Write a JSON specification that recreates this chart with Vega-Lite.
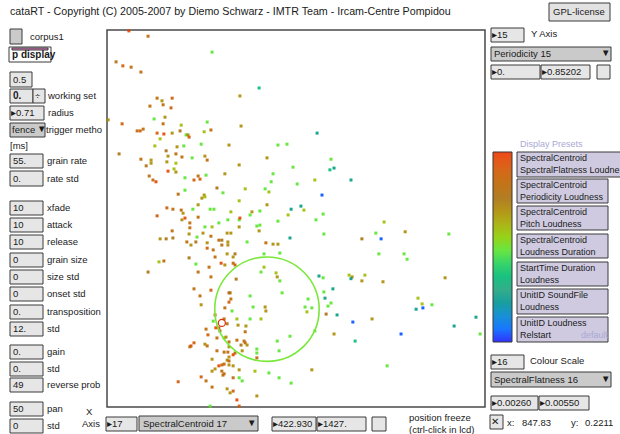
{
"$schema": "https://vega.github.io/schema/vega-lite/v6.json",
"width": 620, "height": 434, "padding": 0, "autosize": "none",
"background": "white",
"config": {"view": {"stroke": null}, "text": {"font": "Liberation Sans", "fontSize": 9.5, "color": "#1a1a1a", "align": "left", "baseline": "middle"}},
"datasets": {
"boxes": [
{"col":549,"col2":610,"row":3,"row2":21,"kind":"button"},
{"col":10,"col2":22,"row":29,"row2":44,"kind":"menu"},
{"col":9,"col2":51,"row":47,"row2":62,"kind":"white"},
{"col":12,"col2":48,"row":48,"row2":50,"kind":"pink"},
{"col":10,"col2":32,"row":72,"row2":87,"kind":"field"},
{"col":10,"col2":33,"row":89,"row2":103,"kind":"field"},
{"col":33,"col2":45,"row":89,"row2":103,"kind":"field"},
{"col":10,"col2":44,"row":106,"row2":120,"kind":"field"},
{"col":10,"col2":45,"row":123,"row2":137,"kind":"menu"},
{"col":10,"col2":43,"row":154,"row2":168,"kind":"field"},
{"col":10,"col2":43,"row":171,"row2":186,"kind":"field"},
{"col":10,"col2":43,"row":201,"row2":215,"kind":"field"},
{"col":10,"col2":43,"row":218,"row2":232,"kind":"field"},
{"col":10,"col2":43,"row":235,"row2":249,"kind":"field"},
{"col":10,"col2":43,"row":253,"row2":267,"kind":"field"},
{"col":10,"col2":43,"row":270,"row2":284,"kind":"field"},
{"col":10,"col2":43,"row":287,"row2":301,"kind":"field"},
{"col":10,"col2":43,"row":305,"row2":319,"kind":"field"},
{"col":10,"col2":43,"row":322,"row2":336,"kind":"field"},
{"col":10,"col2":43,"row":345,"row2":359,"kind":"field"},
{"col":10,"col2":43,"row":362,"row2":376,"kind":"field"},
{"col":10,"col2":43,"row":378,"row2":392,"kind":"field"},
{"col":10,"col2":43,"row":402,"row2":416,"kind":"field"},
{"col":10,"col2":43,"row":419,"row2":433,"kind":"field"},
{"col":106,"col2":137,"row":417,"row2":431,"kind":"field"},
{"col":139,"col2":258,"row":416,"row2":431,"kind":"menu"},
{"col":272,"col2":316,"row":417,"row2":431,"kind":"field"},
{"col":317,"col2":366,"row":417,"row2":431,"kind":"field"},
{"col":372,"col2":386,"row":417,"row2":431,"kind":"field"},
{"col":490,"col2":503,"row":415,"row2":429,"kind":"field"},
{"col":491,"col2":524,"row":28,"row2":42,"kind":"field"},
{"col":491,"col2":611,"row":47,"row2":61,"kind":"menu"},
{"col":491,"col2":540,"row":65,"row2":79,"kind":"field"},
{"col":541,"col2":590,"row":65,"row2":79,"kind":"field"},
{"col":597,"col2":610,"row":65,"row2":79,"kind":"field"},
{"col":491,"col2":524,"row":355,"row2":369,"kind":"field"},
{"col":491,"col2":611,"row":372,"row2":387,"kind":"menu"},
{"col":491,"col2":538,"row":396,"row2":410,"kind":"field"},
{"col":539,"col2":589,"row":396,"row2":410,"kind":"field"},
{"col":517,"col2":622,"row":152,"row2":177,"kind":"preset"},
{"col":517,"col2":608,"row":179,"row2":203,"kind":"preset"},
{"col":517,"col2":608,"row":206,"row2":230,"kind":"preset"},
{"col":517,"col2":608,"row":234,"row2":258,"kind":"preset"},
{"col":517,"col2":608,"row":262,"row2":286,"kind":"preset"},
{"col":517,"col2":608,"row":289,"row2":314,"kind":"preset"},
{"col":517,"col2":608,"row":317,"row2":342,"kind":"preset"}
],
"labels": [
{"text":"corpus1","col":30,"row":37},
{"text":"0.5","col":13,"row":80},
{"text":"÷","col":35,"row":96},
{"text":"working set","col":48,"row":96},
{"text":"▸0.71","col":11,"row":113},
{"text":"radius","col":48,"row":113},
{"text":"fence","col":12,"row":130},
{"text":"▼","col":37,"row":129},
{"text":"trigger metho","col":46,"row":130},
{"text":"[ms]","col":10,"row":146},
{"text":"55.","col":13,"row":161},
{"text":"grain rate","col":47,"row":161},
{"text":"0.","col":13,"row":179},
{"text":"rate std","col":47,"row":179},
{"text":"10","col":13,"row":208},{"text":"xfade","col":47,"row":208},
{"text":"10","col":13,"row":225},{"text":"attack","col":47,"row":225},
{"text":"10","col":13,"row":242},{"text":"release","col":47,"row":242},
{"text":"0","col":13,"row":260},{"text":"grain size","col":47,"row":260},
{"text":"0","col":13,"row":277},{"text":"size std","col":47,"row":277},
{"text":"0","col":13,"row":294},{"text":"onset std","col":47,"row":294},
{"text":"0.","col":13,"row":312},{"text":"transposition","col":47,"row":312},
{"text":"12.","col":13,"row":329},{"text":"std","col":47,"row":329},
{"text":"0.","col":13,"row":352},{"text":"gain","col":47,"row":352},
{"text":"0.","col":13,"row":369},{"text":"std","col":47,"row":369},
{"text":"49","col":13,"row":385},{"text":"reverse prob","col":47,"row":385},
{"text":"50","col":13,"row":409},{"text":"pan","col":47,"row":409},
{"text":"0","col":13,"row":426},{"text":"std","col":47,"row":426},
{"text":"X","col":86,"row":412},{"text":"Axis","col":82,"row":424},
{"text":"▸17","col":107,"row":424},
{"text":"SpectralCentroid 17","col":143,"row":424},{"text":"▼","col":247,"row":423},
{"text":"▸422.930","col":273,"row":424},
{"text":"▸1427.","col":318,"row":424},
{"text":"position freeze","col":409,"row":418},
{"text":"(ctrl-click in lcd)","col":409,"row":430},
{"text":"✕","col":491,"row":422},
{"text":"x:","col":507,"row":423},{"text":"847.83","col":522,"row":423},
{"text":"y:","col":571,"row":423},{"text":"0.2211","col":585,"row":423},
{"text":"GPL-license","col":553,"row":12},
{"text":"▸15","col":492,"row":35},{"text":"Y Axis","col":531,"row":34},
{"text":"Periodicity 15","col":494,"row":54},{"text":"▼","col":601,"row":53},
{"text":"▸0.","col":492,"row":72},{"text":"▸0.85202","col":542,"row":72},
{"text":"▸16","col":492,"row":362},{"text":"Colour Scale","col":530,"row":361},
{"text":"SpectralFlatness 16","col":494,"row":380},{"text":"▼","col":601,"row":379},
{"text":"▸0.00260","col":492,"row":403},{"text":"▸0.00550","col":540,"row":403}
],
"presets": [
{"text":"SpectralCentroid","col":520,"row":158},{"text":"SpectralFlatness Loudne","col":520,"row":170},
{"text":"SpectralCentroid","col":520,"row":185},{"text":"Periodicity Loudness","col":520,"row":197},
{"text":"SpectralCentroid","col":520,"row":212},{"text":"Pitch Loudness","col":520,"row":224},
{"text":"SpectralCentroid","col":520,"row":240},{"text":"Loudness Duration","col":520,"row":252},
{"text":"StartTime Duration","col":520,"row":268},{"text":"Loudness","col":520,"row":280},
{"text":"UnitID SoundFile","col":520,"row":295},{"text":"Loudness","col":520,"row":307},
{"text":"UnitID Loudness","col":520,"row":323},{"text":"Relstart","col":520,"row":335}
],
"bold": [
{"text":"p display","col":12,"row":55},
{"text":"0.","col":13,"row":96}
],
"faint": [
{"text":"Display Presets","col":520,"row":144},
{"text":"default","col":581,"row":335}
],
"title": [
{"text":"cataRT - Copyright (C) 2005-2007 by Diemo Schwarz - IMTR Team - Ircam-Centre Pompidou","col":10,"row":12}
],
"frame": [{"centroid":422.93,"centroid_end":1427,"periodicity":0,"periodicity_end":0.85202}],
"cursor": [{"centroid":847.83,"periodicity":0.2211}],
"selected": [{"centroid":728,"periodicity":0.19}],
"units": [
{"centroid":481,"periodicity":0.850,"flatness":0.0054},
{"centroid":532,"periodicity":0.838,"flatness":0.0050},
{"centroid":702,"periodicity":0.802,"flatness":0.0040},
{"centroid":447,"periodicity":0.780,"flatness":0.0048},
{"centroid":465,"periodicity":0.771,"flatness":0.0052},
{"centroid":487,"periodicity":0.768,"flatness":0.0050},
{"centroid":513,"periodicity":0.757,"flatness":0.0050},
{"centroid":827,"periodicity":0.721,"flatness":0.0036},
{"centroid":776,"periodicity":0.703,"flatness":0.0046},
{"centroid":556,"periodicity":0.698,"flatness":0.0050},
{"centroid":596,"periodicity":0.698,"flatness":0.0052},
{"centroid":569,"periodicity":0.692,"flatness":0.0046},
{"centroid":537,"periodicity":0.680,"flatness":0.0050},
{"centroid":572,"periodicity":0.683,"flatness":0.0050},
{"centroid":593,"periodicity":0.676,"flatness":0.0052},
{"centroid":577,"periodicity":0.655,"flatness":0.0046},
{"centroid":548,"periodicity":0.651,"flatness":0.0040},
{"centroid":426,"periodicity":0.649,"flatness":0.0046},
{"centroid":689,"periodicity":0.644,"flatness":0.0040},
{"centroid":463,"periodicity":0.640,"flatness":0.0052},
{"centroid":620,"periodicity":0.637,"flatness":0.0043},
{"centroid":572,"periodicity":0.640,"flatness":0.0050},
{"centroid":779,"periodicity":0.635,"flatness":0.0046},
{"centroid":519,"periodicity":0.628,"flatness":0.0050},
{"centroid":503,"periodicity":0.624,"flatness":0.0050},
{"centroid":511,"periodicity":0.624,"flatness":0.0052},
{"centroid":617,"periodicity":0.624,"flatness":0.0048},
{"centroid":699,"periodicity":0.626,"flatness":0.0050},
{"centroid":681,"periodicity":0.622,"flatness":0.0043},
{"centroid":556,"periodicity":0.619,"flatness":0.0052},
{"centroid":574,"periodicity":0.617,"flatness":0.0054},
{"centroid":596,"periodicity":0.619,"flatness":0.0046},
{"centroid":633,"periodicity":0.615,"flatness":0.0040},
{"centroid":638,"periodicity":0.615,"flatness":0.0046},
{"centroid":641,"periodicity":0.610,"flatness":0.0052},
{"centroid":981,"periodicity":0.619,"flatness":0.0033},
{"centroid":564,"periodicity":0.606,"flatness":0.0043},
{"centroid":673,"periodicity":0.594,"flatness":0.0040},
{"centroid":550,"periodicity":0.590,"flatness":0.0043},
{"centroid":627,"periodicity":0.590,"flatness":0.0040},
{"centroid":609,"periodicity":0.588,"flatness":0.0046},
{"centroid":747,"periodicity":0.592,"flatness":0.0046},
{"centroid":877,"periodicity":0.592,"flatness":0.0040},
{"centroid":901,"periodicity":0.594,"flatness":0.0040},
{"centroid":455,"periodicity":0.572,"flatness":0.0048},
{"centroid":580,"periodicity":0.579,"flatness":0.0048},
{"centroid":606,"periodicity":0.572,"flatness":0.0050},
{"centroid":585,"periodicity":0.567,"flatness":0.0046},
{"centroid":622,"periodicity":0.565,"flatness":0.0050},
{"centroid":683,"periodicity":0.567,"flatness":0.0046},
{"centroid":513,"periodicity":0.560,"flatness":0.0050},
{"centroid":540,"periodicity":0.558,"flatness":0.0046},
{"centroid":540,"periodicity":0.551,"flatness":0.0046},
{"centroid":649,"periodicity":0.563,"flatness":0.0040},
{"centroid":689,"periodicity":0.558,"flatness":0.0050},
{"centroid":848,"periodicity":0.563,"flatness":0.0046},
{"centroid":582,"periodicity":0.554,"flatness":0.0046},
{"centroid":606,"periodicity":0.551,"flatness":0.0043},
{"centroid":527,"periodicity":0.545,"flatness":0.0048},
{"centroid":774,"periodicity":0.547,"flatness":0.0046},
{"centroid":917,"periodicity":0.542,"flatness":0.0040},
{"centroid":601,"periodicity":0.538,"flatness":0.0043},
{"centroid":606,"periodicity":0.531,"flatness":0.0046},
{"centroid":585,"periodicity":0.533,"flatness":0.0054},
{"centroid":686,"periodicity":0.524,"flatness":0.0040},
{"centroid":736,"periodicity":0.527,"flatness":0.0046},
{"centroid":864,"periodicity":0.527,"flatness":0.0040},
{"centroid":535,"periodicity":0.522,"flatness":0.0050},
{"centroid":545,"periodicity":0.513,"flatness":0.0050},
{"centroid":553,"periodicity":0.509,"flatness":0.0054},
{"centroid":630,"periodicity":0.518,"flatness":0.0040},
{"centroid":654,"periodicity":0.513,"flatness":0.0052},
{"centroid":665,"periodicity":0.522,"flatness":0.0050},
{"centroid":670,"periodicity":0.515,"flatness":0.0052},
{"centroid":859,"periodicity":0.509,"flatness":0.0040},
{"centroid":928,"periodicity":0.504,"flatness":0.0040},
{"centroid":975,"periodicity":0.513,"flatness":0.0043},
{"centroid":715,"periodicity":0.495,"flatness":0.0048},
{"centroid":790,"periodicity":0.493,"flatness":0.0043},
{"centroid":843,"periodicity":0.493,"flatness":0.0040},
{"centroid":630,"periodicity":0.490,"flatness":0.0040},
{"centroid":731,"periodicity":0.484,"flatness":0.0040},
{"centroid":853,"periodicity":0.486,"flatness":0.0043},
{"centroid":612,"periodicity":0.481,"flatness":0.0050},
{"centroid":681,"periodicity":0.479,"flatness":0.0046},
{"centroid":683,"periodicity":0.475,"flatness":0.0043},
{"centroid":675,"periodicity":0.472,"flatness":0.0046},
{"centroid":774,"periodicity":0.466,"flatness":0.0043},
{"centroid":848,"periodicity":0.457,"flatness":0.0046},
{"centroid":912,"periodicity":0.447,"flatness":0.0033},
{"centroid":938,"periodicity":0.454,"flatness":0.0033},
{"centroid":946,"periodicity":0.445,"flatness":0.0043},
{"centroid":665,"periodicity":0.457,"flatness":0.0046},
{"centroid":582,"periodicity":0.450,"flatness":0.0052},
{"centroid":598,"periodicity":0.447,"flatness":0.0050},
{"centroid":620,"periodicity":0.445,"flatness":0.0050},
{"centroid":625,"periodicity":0.438,"flatness":0.0046},
{"centroid":651,"periodicity":0.447,"flatness":0.0040},
{"centroid":697,"periodicity":0.447,"flatness":0.0040},
{"centroid":707,"periodicity":0.447,"flatness":0.0040},
{"centroid":752,"periodicity":0.441,"flatness":0.0043},
{"centroid":808,"periodicity":0.441,"flatness":0.0046},
{"centroid":829,"periodicity":0.443,"flatness":0.0040},
{"centroid":803,"periodicity":0.434,"flatness":0.0040},
{"centroid":904,"periodicity":0.434,"flatness":0.0043},
{"centroid":556,"periodicity":0.432,"flatness":0.0052},
{"centroid":630,"periodicity":0.427,"flatness":0.0054},
{"centroid":665,"periodicity":0.429,"flatness":0.0050},
{"centroid":622,"periodicity":0.423,"flatness":0.0046},
{"centroid":643,"periodicity":0.416,"flatness":0.0050},
{"centroid":720,"periodicity":0.416,"flatness":0.0040},
{"centroid":744,"periodicity":0.423,"flatness":0.0040},
{"centroid":774,"periodicity":0.423,"flatness":0.0040},
{"centroid":776,"periodicity":0.427,"flatness":0.0054},
{"centroid":829,"periodicity":0.411,"flatness":0.0040},
{"centroid":877,"periodicity":0.420,"flatness":0.0040},
{"centroid":978,"periodicity":0.423,"flatness":0.0040},
{"centroid":1018,"periodicity":0.560,"flatness":0.0040},
{"centroid":1015,"periodicity":0.536,"flatness":0.0036},
{"centroid":1026,"periodicity":0.540,"flatness":0.0033},
{"centroid":1071,"periodicity":0.513,"flatness":0.0033},
{"centroid":994,"periodicity":0.479,"flatness":0.0027},
{"centroid":997,"periodicity":0.436,"flatness":0.0040},
{"centroid":1159,"periodicity":0.418,"flatness":0.0043},
{"centroid":774,"periodicity":0.407,"flatness":0.0046},
{"centroid":821,"periodicity":0.409,"flatness":0.0040},
{"centroid":683,"periodicity":0.407,"flatness":0.0040},
{"centroid":702,"periodicity":0.407,"flatness":0.0043},
{"centroid":643,"periodicity":0.405,"flatness":0.0050},
{"centroid":596,"periodicity":0.398,"flatness":0.0050},
{"centroid":641,"periodicity":0.391,"flatness":0.0046},
{"centroid":678,"periodicity":0.393,"flatness":0.0046},
{"centroid":699,"periodicity":0.386,"flatness":0.0050},
{"centroid":742,"periodicity":0.393,"flatness":0.0046},
{"centroid":752,"periodicity":0.393,"flatness":0.0046},
{"centroid":827,"periodicity":0.398,"flatness":0.0046},
{"centroid":662,"periodicity":0.384,"flatness":0.0040},
{"centroid":564,"periodicity":0.380,"flatness":0.0046},
{"centroid":580,"periodicity":0.380,"flatness":0.0048},
{"centroid":598,"periodicity":0.382,"flatness":0.0048},
{"centroid":720,"periodicity":0.377,"flatness":0.0050},
{"centroid":728,"periodicity":0.377,"flatness":0.0048},
{"centroid":744,"periodicity":0.373,"flatness":0.0046},
{"centroid":795,"periodicity":0.373,"flatness":0.0040},
{"centroid":909,"periodicity":0.382,"flatness":0.0033},
{"centroid":635,"periodicity":0.373,"flatness":0.0050},
{"centroid":659,"periodicity":0.373,"flatness":0.0048},
{"centroid":689,"periodicity":0.371,"flatness":0.0046},
{"centroid":646,"periodicity":0.366,"flatness":0.0046},
{"centroid":728,"periodicity":0.366,"flatness":0.0050},
{"centroid":744,"periodicity":0.366,"flatness":0.0046},
{"centroid":845,"periodicity":0.371,"flatness":0.0050},
{"centroid":864,"periodicity":0.368,"flatness":0.0046},
{"centroid":877,"periodicity":0.368,"flatness":0.0046},
{"centroid":689,"periodicity":0.359,"flatness":0.0052},
{"centroid":705,"periodicity":0.355,"flatness":0.0050},
{"centroid":742,"periodicity":0.346,"flatness":0.0046},
{"centroid":763,"periodicity":0.346,"flatness":0.0048},
{"centroid":758,"periodicity":0.339,"flatness":0.0046},
{"centroid":641,"periodicity":0.337,"flatness":0.0048},
{"centroid":710,"periodicity":0.339,"flatness":0.0050},
{"centroid":840,"periodicity":0.346,"flatness":0.0040},
{"centroid":882,"periodicity":0.348,"flatness":0.0040},
{"centroid":561,"periodicity":0.328,"flatness":0.0043},
{"centroid":574,"periodicity":0.330,"flatness":0.0050},
{"centroid":726,"periodicity":0.325,"flatness":0.0054},
{"centroid":736,"periodicity":0.321,"flatness":0.0046},
{"centroid":758,"periodicity":0.325,"flatness":0.0050},
{"centroid":763,"periodicity":0.321,"flatness":0.0052},
{"centroid":659,"periodicity":0.323,"flatness":0.0040},
{"centroid":694,"periodicity":0.316,"flatness":0.0050},
{"centroid":840,"periodicity":0.316,"flatness":0.0043},
{"centroid":532,"periodicity":0.305,"flatness":0.0048},
{"centroid":665,"periodicity":0.305,"flatness":0.0050},
{"centroid":832,"periodicity":0.305,"flatness":0.0040},
{"centroid":872,"periodicity":0.303,"flatness":0.0043},
{"centroid":875,"periodicity":0.294,"flatness":0.0046},
{"centroid":882,"periodicity":0.285,"flatness":0.0040},
{"centroid":699,"periodicity":0.294,"flatness":0.0050},
{"centroid":766,"periodicity":0.289,"flatness":0.0048},
{"centroid":986,"periodicity":0.296,"flatness":0.0033},
{"centroid":654,"periodicity":0.267,"flatness":0.0050},
{"centroid":699,"periodicity":0.264,"flatness":0.0052},
{"centroid":747,"periodicity":0.258,"flatness":0.0050},
{"centroid":750,"periodicity":0.258,"flatness":0.0048},
{"centroid":888,"periodicity":0.258,"flatness":0.0040},
{"centroid":670,"periodicity":0.251,"flatness":0.0050},
{"centroid":752,"periodicity":0.244,"flatness":0.0050},
{"centroid":803,"periodicity":0.251,"flatness":0.0040},
{"centroid":747,"periodicity":0.237,"flatness":0.0052},
{"centroid":673,"periodicity":0.231,"flatness":0.0046},
{"centroid":736,"periodicity":0.224,"flatness":0.0050},
{"centroid":755,"periodicity":0.217,"flatness":0.0040},
{"centroid":811,"periodicity":0.226,"flatness":0.0040},
{"centroid":843,"periodicity":0.226,"flatness":0.0046},
{"centroid":845,"periodicity":0.217,"flatness":0.0046},
{"centroid":957,"periodicity":0.244,"flatness":0.0040},
{"centroid":949,"periodicity":0.226,"flatness":0.0040},
{"centroid":954,"periodicity":0.215,"flatness":0.0043},
{"centroid":967,"periodicity":0.224,"flatness":0.0040},
{"centroid":710,"periodicity":0.208,"flatness":0.0052},
{"centroid":768,"periodicity":0.199,"flatness":0.0043},
{"centroid":803,"periodicity":0.199,"flatness":0.0040},
{"centroid":832,"periodicity":0.199,"flatness":0.0043},
{"centroid":705,"periodicity":0.194,"flatness":0.0040},
{"centroid":734,"periodicity":0.199,"flatness":0.0050},
{"centroid":742,"periodicity":0.188,"flatness":0.0050},
{"centroid":712,"periodicity":0.179,"flatness":0.0054},
{"centroid":720,"periodicity":0.179,"flatness":0.0054},
{"centroid":723,"periodicity":0.172,"flatness":0.0048},
{"centroid":686,"periodicity":0.176,"flatness":0.0050},
{"centroid":771,"periodicity":0.185,"flatness":0.0046},
{"centroid":792,"periodicity":0.183,"flatness":0.0046},
{"centroid":790,"periodicity":0.170,"flatness":0.0050},
{"centroid":691,"periodicity":0.163,"flatness":0.0052},
{"centroid":975,"periodicity":0.172,"flatness":0.0040},
{"centroid":715,"periodicity":0.156,"flatness":0.0050},
{"centroid":734,"periodicity":0.156,"flatness":0.0043},
{"centroid":739,"periodicity":0.158,"flatness":0.0046},
{"centroid":909,"periodicity":0.160,"flatness":0.0040},
{"centroid":768,"periodicity":0.151,"flatness":0.0050},
{"centroid":787,"periodicity":0.149,"flatness":0.0050},
{"centroid":790,"periodicity":0.145,"flatness":0.0050},
{"centroid":747,"periodicity":0.147,"flatness":0.0050},
{"centroid":875,"periodicity":0.149,"flatness":0.0040},
{"centroid":654,"periodicity":0.145,"flatness":0.0052},
{"centroid":683,"periodicity":0.142,"flatness":0.0046},
{"centroid":689,"periodicity":0.138,"flatness":0.0050},
{"centroid":646,"periodicity":0.138,"flatness":0.0054},
{"centroid":643,"periodicity":0.136,"flatness":0.0050},
{"centroid":779,"periodicity":0.140,"flatness":0.0048},
{"centroid":795,"periodicity":0.140,"flatness":0.0046},
{"centroid":747,"periodicity":0.136,"flatness":0.0046},
{"centroid":715,"periodicity":0.127,"flatness":0.0050},
{"centroid":734,"periodicity":0.124,"flatness":0.0050},
{"centroid":744,"periodicity":0.124,"flatness":0.0050},
{"centroid":763,"periodicity":0.122,"flatness":0.0050},
{"centroid":758,"periodicity":0.118,"flatness":0.0054},
{"centroid":782,"periodicity":0.127,"flatness":0.0046},
{"centroid":821,"periodicity":0.131,"flatness":0.0040},
{"centroid":821,"periodicity":0.122,"flatness":0.0040},
{"centroid":880,"periodicity":0.127,"flatness":0.0040},
{"centroid":747,"periodicity":0.113,"flatness":0.0046},
{"centroid":821,"periodicity":0.111,"flatness":0.0050},
{"centroid":702,"periodicity":0.108,"flatness":0.0046},
{"centroid":742,"periodicity":0.106,"flatness":0.0046},
{"centroid":747,"periodicity":0.104,"flatness":0.0050},
{"centroid":734,"periodicity":0.097,"flatness":0.0052},
{"centroid":720,"periodicity":0.093,"flatness":0.0054},
{"centroid":728,"periodicity":0.095,"flatness":0.0050},
{"centroid":747,"periodicity":0.095,"flatness":0.0046},
{"centroid":758,"periodicity":0.093,"flatness":0.0046},
{"centroid":774,"periodicity":0.084,"flatness":0.0046},
{"centroid":702,"periodicity":0.081,"flatness":0.0046},
{"centroid":710,"periodicity":0.086,"flatness":0.0046},
{"centroid":728,"periodicity":0.081,"flatness":0.0050},
{"centroid":734,"periodicity":0.075,"flatness":0.0050},
{"centroid":731,"periodicity":0.072,"flatness":0.0050},
{"centroid":816,"periodicity":0.081,"flatness":0.0043},
{"centroid":853,"periodicity":0.077,"flatness":0.0040},
{"centroid":880,"periodicity":0.066,"flatness":0.0040},
{"centroid":673,"periodicity":0.068,"flatness":0.0052},
{"centroid":758,"periodicity":0.066,"flatness":0.0050},
{"centroid":774,"periodicity":0.066,"flatness":0.0040},
{"centroid":782,"periodicity":0.059,"flatness":0.0040},
{"centroid":686,"periodicity":0.059,"flatness":0.0050},
{"centroid":912,"periodicity":0.054,"flatness":0.0040},
{"centroid":967,"periodicity":0.084,"flatness":0.0046},
{"centroid":612,"periodicity":0.057,"flatness":0.0052},
{"centroid":702,"periodicity":0.045,"flatness":0.0050},
{"centroid":742,"periodicity":0.041,"flatness":0.0046},
{"centroid":758,"periodicity":0.036,"flatness":0.0052},
{"centroid":750,"periodicity":0.032,"flatness":0.0046},
{"centroid":821,"periodicity":0.025,"flatness":0.0046},
{"centroid":768,"periodicity":0.016,"flatness":0.0054},
{"centroid":697,"periodicity":0.002,"flatness":0.0040},
{"centroid":774,"periodicity":0.002,"flatness":0.0052},
{"centroid":999,"periodicity":0.391,"flatness":0.0040},
{"centroid":1100,"periodicity":0.380,"flatness":0.0048},
{"centroid":1151,"periodicity":0.380,"flatness":0.0027},
{"centroid":1137,"periodicity":0.393,"flatness":0.0040},
{"centroid":1215,"periodicity":0.396,"flatness":0.0046},
{"centroid":1331,"periodicity":0.391,"flatness":0.0040},
{"centroid":1145,"periodicity":0.346,"flatness":0.0040},
{"centroid":1212,"periodicity":0.346,"flatness":0.0040},
{"centroid":1220,"periodicity":0.334,"flatness":0.0040},
{"centroid":997,"periodicity":0.292,"flatness":0.0040},
{"centroid":1066,"periodicity":0.298,"flatness":0.0043},
{"centroid":1074,"periodicity":0.294,"flatness":0.0046},
{"centroid":1071,"periodicity":0.290,"flatness":0.0033},
{"centroid":1108,"periodicity":0.298,"flatness":0.0043},
{"centroid":1100,"periodicity":0.285,"flatness":0.0046},
{"centroid":1156,"periodicity":0.283,"flatness":0.0046},
{"centroid":1321,"periodicity":0.292,"flatness":0.0046},
{"centroid":1023,"periodicity":0.267,"flatness":0.0033},
{"centroid":999,"periodicity":0.260,"flatness":0.0040},
{"centroid":1002,"periodicity":0.246,"flatness":0.0033},
{"centroid":1018,"periodicity":0.235,"flatness":0.0040},
{"centroid":1010,"periodicity":0.228,"flatness":0.0040},
{"centroid":1005,"periodicity":0.210,"flatness":0.0048},
{"centroid":1034,"periodicity":0.208,"flatness":0.0033},
{"centroid":1249,"periodicity":0.246,"flatness":0.0043},
{"centroid":1260,"periodicity":0.233,"flatness":0.0043},
{"centroid":1262,"periodicity":0.224,"flatness":0.0027},
{"centroid":1244,"periodicity":0.221,"flatness":0.0033},
{"centroid":1286,"periodicity":0.231,"flatness":0.0040},
{"centroid":1127,"periodicity":0.199,"flatness":0.0046},
{"centroid":1076,"periodicity":0.192,"flatness":0.0027},
{"centroid":1026,"periodicity":0.165,"flatness":0.0046},
{"centroid":1204,"periodicity":0.165,"flatness":0.0027},
{"centroid":1082,"periodicity":0.149,"flatness":0.0036},
{"centroid":1403,"periodicity":0.203,"flatness":0.0033},
{"centroid":1345,"periodicity":0.183,"flatness":0.0033},
{"centroid":1414,"periodicity":0.165,"flatness":0.0040},
{"centroid":1167,"periodicity":0.093,"flatness":0.0040}
]
},
"layer": [
{"data": {"name": "boxes"}, "mark": {"type": "rect", "stroke": "#3a3a3a", "strokeWidth": 1},
 "encoding": {
  "x": {"field": "col", "type": "quantitative", "scale": {"domain": [0, 620], "range": [0, 620], "nice": false, "zero": false}, "axis": null},
  "x2": {"field": "col2"},
  "y": {"field": "row", "type": "quantitative", "scale": {"domain": [0, 434], "range": [0, 434], "nice": false, "zero": false}, "axis": null},
  "y2": {"field": "row2"},
  "color": {"field": "kind", "type": "nominal", "scale": {"domain": ["button", "field", "menu", "white", "pink", "preset"], "range": ["#e2e2e2", "#e6e6e6", "#cacaca", "#ffffff", "#e27fc4", "#cfcae0"]}, "legend": null}
 }},
{"data": {"name": "labels"}, "mark": {"type": "text"},
 "encoding": {
  "x": {"field": "col", "type": "quantitative", "scale": {"domain": [0, 620], "range": [0, 620], "nice": false, "zero": false}, "axis": null},
  "y": {"field": "row", "type": "quantitative", "scale": {"domain": [0, 434], "range": [0, 434], "nice": false, "zero": false}, "axis": null},
  "text": {"field": "text"}
 }},
{"data": {"name": "presets"}, "mark": {"type": "text", "fontSize": 9},
 "encoding": {
  "x": {"field": "col", "type": "quantitative", "scale": {"domain": [0, 620], "range": [0, 620], "nice": false, "zero": false}, "axis": null},
  "y": {"field": "row", "type": "quantitative", "scale": {"domain": [0, 434], "range": [0, 434], "nice": false, "zero": false}, "axis": null},
  "text": {"field": "text"}
 }},
{"data": {"name": "bold"}, "mark": {"type": "text", "fontWeight": "bold", "fontSize": 10},
 "encoding": {
  "x": {"field": "col", "type": "quantitative", "scale": {"domain": [0, 620], "range": [0, 620], "nice": false, "zero": false}, "axis": null},
  "y": {"field": "row", "type": "quantitative", "scale": {"domain": [0, 434], "range": [0, 434], "nice": false, "zero": false}, "axis": null},
  "text": {"field": "text"}
 }},
{"data": {"name": "faint"}, "mark": {"type": "text", "color": "#a9a9d6", "fontSize": 9},
 "encoding": {
  "x": {"field": "col", "type": "quantitative", "scale": {"domain": [0, 620], "range": [0, 620], "nice": false, "zero": false}, "axis": null},
  "y": {"field": "row", "type": "quantitative", "scale": {"domain": [0, 434], "range": [0, 434], "nice": false, "zero": false}, "axis": null},
  "text": {"field": "text"}
 }},
{"data": {"name": "title"}, "mark": {"type": "text", "fontSize": 10.7},
 "encoding": {
  "x": {"field": "col", "type": "quantitative", "scale": {"domain": [0, 620], "range": [0, 620], "nice": false, "zero": false}, "axis": null},
  "y": {"field": "row", "type": "quantitative", "scale": {"domain": [0, 434], "range": [0, 434], "nice": false, "zero": false}, "axis": null},
  "text": {"field": "text"}
 }},
{"data": {"name": "frame"}, "mark": {"type": "rect", "fill": "white", "stroke": "#4a4a4a", "strokeWidth": 1.5},
 "encoding": {
  "x": {"field": "centroid", "type": "quantitative", "scale": {"domain": [422.93, 1427], "range": [107, 485], "nice": false, "zero": false}, "axis": null},
  "x2": {"field": "centroid_end"},
  "y": {"field": "periodicity", "type": "quantitative", "scale": {"domain": [0, 0.85202], "range": [407, 30], "nice": false, "zero": false}, "axis": null},
  "y2": {"field": "periodicity_end"}
 }},
{"data": {"name": "units"}, "mark": {"type": "square", "size": 9, "opacity": 0.9},
 "encoding": {
  "x": {"field": "centroid", "type": "quantitative", "scale": {"domain": [422.93, 1427], "range": [107, 485], "nice": false, "zero": false}, "axis": null},
  "y": {"field": "periodicity", "type": "quantitative", "scale": {"domain": [0, 0.85202], "range": [407, 30], "nice": false, "zero": false}, "axis": null},
  "color": {"field": "flatness", "type": "quantitative",
   "scale": {"domain": [0.0026, 0.003325, 0.00405, 0.004775, 0.0055], "range": ["#1c1cff", "#2c9c80", "#66e812", "#a87010", "#ee3300"]},
   "legend": {"orient": "none", "legendX": 493, "legendY": 152, "direction": "vertical", "gradientLength": 190, "gradientThickness": 19, "title": null, "labelExpr": "''", "labelOpacity": 0, "labelFontSize": 1, "tickCount": 1, "gradientStrokeColor": "#222", "gradientStrokeWidth": 1}}
 }},
{"data": {"name": "cursor"}, "mark": {"type": "point", "shape": "circle", "filled": false, "size": 10900, "stroke": "#7ae83a", "strokeWidth": 1.6, "opacity": 1},
 "encoding": {
  "x": {"field": "centroid", "type": "quantitative", "scale": {"domain": [422.93, 1427], "range": [107, 485], "nice": false, "zero": false}, "axis": null},
  "y": {"field": "periodicity", "type": "quantitative", "scale": {"domain": [0, 0.85202], "range": [407, 30], "nice": false, "zero": false}, "axis": null}
 }},
{"data": {"name": "selected"}, "mark": {"type": "point", "shape": "circle", "filled": false, "size": 50, "stroke": "#e03010", "strokeWidth": 1.2, "opacity": 1},
 "encoding": {
  "x": {"field": "centroid", "type": "quantitative", "scale": {"domain": [422.93, 1427], "range": [107, 485], "nice": false, "zero": false}, "axis": null},
  "y": {"field": "periodicity", "type": "quantitative", "scale": {"domain": [0, 0.85202], "range": [407, 30], "nice": false, "zero": false}, "axis": null}
 }}
],
"resolve": {"scale": {"x": "independent", "y": "independent", "color": "independent"}}
}
